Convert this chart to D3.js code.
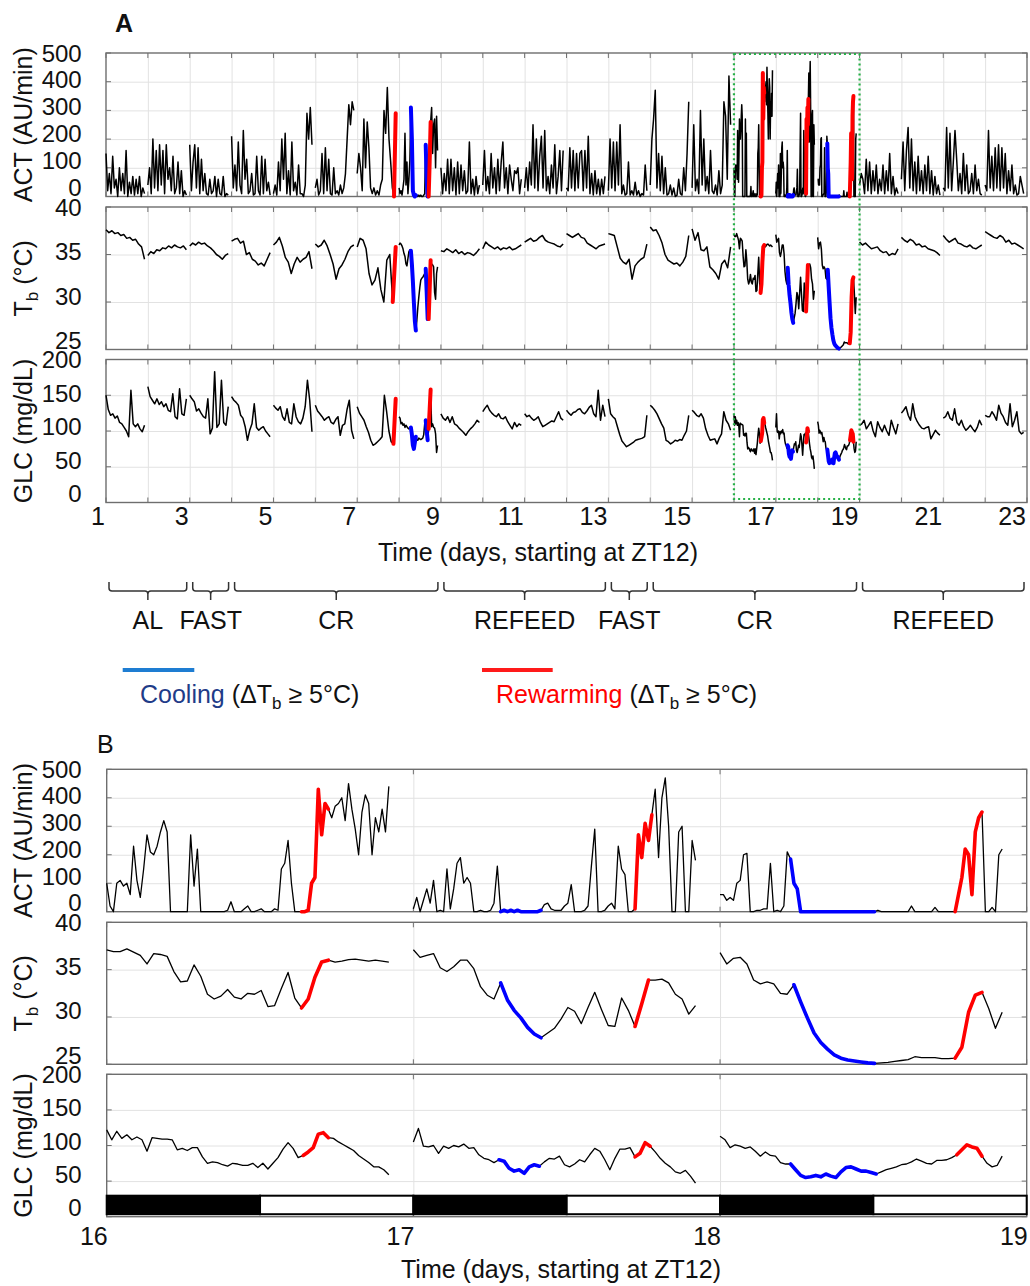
<!DOCTYPE html>
<html>
<head>
<meta charset="utf-8">
<script src="https://cdn.jsdelivr.net/npm/d3@7"></script>
<style>
  body { margin: 0; background: #fff; }
  svg { display: block; font-family: "Liberation Sans", Arial, sans-serif; }
</style>
</head>
<body>
<div id="chart"></div>
<script>
// ---------- data ----------
// every daily record starts at ZT12 and covers ~0.92 day, values evenly spaced
const SPAN = 0.92;

// panel B (days 16-18), higher resolution; also reused in panel A
const act16 = [100,20,0,100,110,90,100,60,230,110,50,150,270,210,200,230,280,320,280,0,0,0,0,0,0,270,90,220,0,0,0,0,0,0,0,0,5,35,0,0,0,10,20,0,0,5,10,0,0,0,10,5,150,170,250,100,0,0,0,0,5,100,120,430,270,380,360,330,370,380,400,320,450,360,290,200,350,410,380,200,330,280,360,280,440];
const act17 = [10,50,0,40,80,30,110,0,5,0,150,10,80,170,190,100,120,100,0,0,5,0,0,5,30,160,0,5,0,5,0,5,0,0,0,0,0,0,5,25,30,10,5,5,5,20,30,95,0,0,0,5,20,160,290,0,0,5,20,30,10,230,150,130,0,0,10,270,190,310,250,340,430,190,400,470,300,0,0,280,300,0,0,250,180];
const act18 = [60,60,40,50,40,100,110,200,205,0,0,5,5,10,10,170,0,5,0,20,210,185,100,80,0,0,0,0,0,0,0,0,0,0,0,0,0,0,0,0,0,0,0,0,0,0,0,5,0,0,0,0,0,0,0,0,0,20,0,0,0,0,0,0,15,0,0,0,0,0,0,60,120,220,200,60,280,330,350,0,0,15,0,200,220];
const tb16 = [37.1,36.9,36.9,37.2,36.85,36.5,35.6,36.7,36.6,36.4,34.8,33.7,33.8,35.5,34.3,32.4,31.9,32.2,32.9,32.1,31.9,32.5,32.4,32.8,31.1,31.2,33.0,34.7,32.0,30.95,31.9,34.2,35.8,36.0,35.8,35.9,36.05,36.1,36.0,35.9,36.0,35.9,35.8];
const tb17 = [37.1,36.3,36.5,36.7,35.2,34.8,35.3,36.0,36.0,35.1,33.2,32.3,31.9,33.6,31.8,30.7,29.9,28.9,28.2,27.8,28.3,28.8,29.8,31.0,30.6,29.3,31.0,32.6,30.8,29.1,29.0,32.0,30.7,29.0,31.4,33.9,33.9,34.0,33.6,32.4,31.9,30.3,31.2];
const tb18 = [36.8,35.6,36.2,36.3,35.6,33.9,33.5,33.7,33.5,32.5,32.4,33.4,31.6,29.9,28.3,27.3,26.6,26.0,25.65,25.45,25.35,25.25,25.15,25.1,25.15,25.2,25.3,25.4,25.5,25.8,25.7,25.7,25.7,25.6,25.6,25.65,26.8,30.5,32.3,32.6,30.9,28.8,30.5];
const glc16 = [122,108,120,110,115,108,112,108,92,111,110,109,109,108,94,96,93,97,97,84,75,77,76,73,71,75,74,72,72,75,69,75,67,75,83,95,104,96,83,86,91,97,116,118,111,110,105,101,97,93,86,81,76,70,70,66,59];
const glc17 = [105,124,99,98,100,89,99,96,100,98,102,96,97,87,82,80,76,80,78,68,64,66,61,70,73,71,77,82,81,85,73,70,74,80,77,87,96,92,80,66,82,95,95,97,84,89,104,99,91,82,75,70,63,61,65,57,47];
const glc18 = [113,108,97,101,99,96,98,92,85,91,86,85,76,74,74,66,58,55,56,58,56,60,57,55,63,69,70,67,64,64,62,60,63,66,68,70,73,74,77,81,78,75,74,79,79,80,83,87,94,101,98,96,85,75,70,72,85];

// panel A, one array per day (day 1 .. day 22)
const actA = [
  [150,20,80,10,140,30,60,0,100,20,80,10,160,0,50,10,70,5,60,10,70,0,30,10],
  [40,100,10,200,30,160,20,180,40,160,10,180,60,100,20,140,10,30,120,10,90,0,20,5],
  [180,20,120,180,30,170,10,130,20,80,10,5,60,10,20,70,0,60,10,5,70,0,10,5],
  [210,30,110,20,190,40,10,230,60,130,10,20,80,5,10,140,20,5,140,10,130,20,50,5],
  [10,40,5,120,20,200,60,220,10,90,5,190,20,50,5,110,10,10,0,40,290,200,310,180],
  [30,60,5,20,150,10,170,20,130,10,5,100,10,20,5,40,10,30,80,200,320,250,330,300],
  [80,150,100,20,270,100,260,170,30,10,30,5,20,5,40,60,300,220,380,200,120,30,0,290],
  [30,10,20,5,30,60,220,40,120,10,60,130,310,200,20,5,0,5,5,0,5,0,5,0,0,5,10,180,60,0,0,120,260,310,150,250,270,100,280,160],
  [100,10,80,20,130,10,130,20,100,5,120,10,110,20,90,10,20,190,10,60,5,70,10,40],
  [40,160,20,70,10,150,30,100,10,130,20,120,190,30,100,10,110,60,20,90,80,100,10,60],
  [30,100,20,120,40,250,30,200,20,140,210,30,230,20,70,10,110,30,180,10,70,160,20,160],
  [30,20,170,30,160,20,150,30,150,160,20,160,30,210,10,80,5,90,10,60,5,60,10,70],
  [20,200,30,190,20,190,40,250,10,40,5,10,120,5,20,5,50,5,20,0,10,5,110,20],
  [40,200,270,370,30,150,20,140,10,100,5,10,40,5,30,0,5,60,10,5,100,20,150,330],
  [30,250,20,60,10,300,40,200,20,70,10,160,20,10,40,5,90,10,40,330,280,60,420,250],
  act16, act17, act18,
  [40,80,60,10,130,20,120,10,90,20,110,10,60,20,110,10,90,20,150,10,70,5,30,10],
  [60,190,20,160,240,30,200,20,120,10,140,20,90,10,110,20,140,10,90,5,70,10,40,5],
  [30,20,240,30,220,20,120,230,130,20,80,10,150,20,110,10,20,80,10,110,20,60,10,5],
  [40,20,230,30,140,20,170,30,180,20,170,30,150,10,90,20,110,10,40,5,10,70,40,10]
];
const tbA = [
  [37.6,37.3,37.5,37.2,37.3,37.0,37.1,36.7,36.8,36.5,36.6,36.1,35.8,34.5],
  [34.9,35.3,35.1,35.5,35.4,35.7,35.6,35.9,35.7,36.0,35.8,35.7,35.9,35.5],
  [35.9,36.2,36.0,36.3,36.1,36.2,35.9,35.7,35.4,35.0,34.8,34.5,34.9,35.1],
  [36.4,36.6,36.7,36.2,36.4,35.0,35.2,34.5,34.3,33.9,34.1,33.8,34.5,35.2],
  [36.0,36.3,36.8,35.9,34.7,34.2,33.0,34.0,34.7,34.2,34.5,34.7,35.3,33.5],
  [36.1,35.8,36.0,36.5,35.9,35.0,34.0,32.4,33.5,33.9,34.5,35.3,35.8,36.0],
  [35.8,36.7,36.5,35.6,33.0,31.8,32.3,33.6,31.3,30.0,34.4,35.0,30.0,35.8],
  [36.0,36.2,36.1,35.9,35.6,35.1,34.8,34.0,33.8,34.6,35.3,35.5,35.4,34.0,32.2,30.0,28.0,27.0,28.0,29.4,30.5,31.5,32.3,32.5,32.6,32.8,33.0,33.5,31.0,28.2,28.2,31.3,34.4,34.0,33.9,33.7,31.0,30.3,33.0,33.7],
  [35.4,35.3,35.6,35.4,35.2,35.5,35.1,35.3,35.0,35.2,35.1,34.9,35.2,35.6],
  [35.6,36.3,36.0,35.8,35.6,35.8,35.5,35.7,35.6,35.8,35.5,35.6,35.8,36.0],
  [36.3,36.5,36.7,36.4,36.5,36.8,37.0,36.5,36.3,36.2,36.1,35.9,35.8,36.1],
  [37.2,37.0,36.8,37.0,37.2,36.8,36.7,36.2,36.0,35.8,35.6,35.9,36.0,36.1],
  [37.2,37.1,37.0,35.8,34.6,34.2,34.0,34.5,32.4,33.8,34.2,34.5,34.7,36.1],
  [37.9,37.5,37.6,37.0,36.2,35.0,34.4,34.2,34.0,34.1,33.8,34.2,34.8,37.0],
  [37.7,36.5,37.3,35.5,35.4,35.8,33.7,33.4,33.0,32.4,34.0,34.4,33.6,35.8],
  tb16, tb17, tb18,
  [36.3,36.0,36.2,35.9,35.6,35.7,35.8,35.4,35.2,35.3,34.9,35.1,35.0,35.6],
  [36.8,36.5,36.3,36.6,36.4,36.0,36.1,35.8,35.9,35.6,35.5,35.4,35.2,34.9],
  [37.0,36.6,36.3,36.5,36.7,36.2,36.1,35.9,35.8,36.0,35.7,35.6,35.8,36.0],
  [37.4,37.2,37.0,36.8,36.7,37.0,36.8,36.3,36.5,36.1,36.2,36.0,35.8,35.6]
];
const glcA = [
  [150,130,122,124,118,121,112,110,105,100,92,157,110,106,110,103,99,108],
  [162,148,143,138,145,137,141,134,138,129,127,152,120,117,159,124,122,145],
  [150,145,141,128,131,125,120,118,145,96,104,183,105,110,171,112,108,134],
  [148,143,140,136,122,118,106,87,101,110,138,105,101,104,106,100,96,92],
  [136,132,129,134,120,115,131,112,110,138,120,113,110,118,134,171,143,99],
  [136,128,124,120,115,118,120,112,110,116,120,94,108,110,130,143,101,89],
  [134,125,120,115,106,98,87,80,82,85,88,92,150,127,100,85,82,145],
  [120,118,110,112,108,110,105,108,106,104,103,105,105,95,80,75,84,92,88,87,90,89,88,89,90,95,110,115,100,87,103,130,158,106,110,105,104,96,70,80],
  [124,118,115,120,112,120,110,108,104,101,98,94,99,103,106,110,115,112],
  [127,132,136,129,125,122,120,124,118,117,120,113,108,103,112,106,110,108],
  [124,120,122,118,115,117,120,112,106,108,110,112,114,113,120,127,118,115],
  [129,125,122,126,127,130,131,126,124,128,133,136,124,120,157,115,136,120],
  [145,124,120,117,106,95,86,82,78,80,82,84,87,88,89,90,92,122],
  [136,133,129,124,117,110,104,87,85,82,84,87,86,88,87,94,100,122],
  [129,126,122,120,124,118,103,94,87,88,89,82,90,96,127,115,110,101],
  glc16, glc17, glc18,
  [108,110,115,103,108,113,100,92,113,105,99,108,100,94,115,105,96,110],
  [125,129,134,122,115,138,120,113,108,104,103,105,106,89,95,101,97,94],
  [118,120,127,118,115,131,112,108,115,106,101,104,108,103,99,105,115,108],
  [122,120,120,127,122,115,136,125,120,112,108,138,106,115,127,100,96,98]
];

// cooling / rewarming bouts (delta Tb >= 5 C), in days
const evStart = [7.845, 8.275, 8.625, 8.69, 16.63, 17.278, 17.72, 18.228, 18.76];
const evEnd   = [7.925, 8.41, 8.685, 8.765, 16.725, 17.42, 17.785, 18.51, 18.856];
const evType  = ["rewarm", "cool", "cool", "rewarm", "rewarm", "cool", "rewarm", "cool", "rewarm"];

// feeding protocol
const phaseName  = ["AL", "FAST", "CR", "REFEED", "FAST", "CR", "REFEED"];
const phaseStart = [1, 3, 4, 9, 13, 14, 19];
const phaseEnd   = [3, 4, 9, 13, 14, 19, 23];

// light/dark cycle in panel B
const ldStart = [16, 16.5, 17, 17.5, 18, 18.5];
const ldEnd   = [16.5, 17, 17.5, 18, 18.5, 19];
const ldDark  = [true, false, true, false, true, false];

const actTicks = [0, 100, 200, 300, 400, 500];
const tbTicks  = [25, 30, 35, 40];
const glcTicks = [0, 50, 100, 150, 200];
const daysA = d3.range(1, 23);
const xTickLabelsA = [1, 3, 5, 7, 9, 11, 13, 15, 17, 19, 21, 23];
const xTickLabelsB = [16, 17, 18, 19];

// ---------- chart ----------
const W = 1030, H = 1286;
const COLORS = { cool: "#0000ff", rewarm: "#ff0000" };

const svg = d3.select("#chart").append("svg")
  .attr("width", W).attr("height", H)
  .attr("viewBox", `0 0 ${W} ${H}`);

const xA = d3.scaleLinear().domain([1, 23]).range([106, 1027]);
const xB = d3.scaleLinear().domain([16, 19]).range([106.7, 1026.7]);

function pts(day, vals) {
  const n = vals.length;
  return vals.map((v, i) => ({ t: day + SPAN * i / (n - 1), v }));
}

function panel(x, top, bottom, domain, ticks, xGrid, title) {
  const y = d3.scaleLinear().domain(domain).range([bottom, top]);
  const [x0, x1] = x.range();
  const g = svg.append("g");

  // gridlines
  g.append("g")
    .attr("transform", `translate(0,${bottom})`)
    .call(d3.axisBottom(x).tickValues(xGrid.filter(d => d > x.domain()[0] && d < x.domain()[1]))
      .tickSize(-(bottom - top)).tickFormat(""))
    .call(a => a.select(".domain").remove())
    .selectAll("line").attr("stroke", "#e2e2e2").attr("stroke-width", 1);
  g.append("g")
    .attr("transform", `translate(${x0},0)`)
    .call(d3.axisLeft(y).tickValues(ticks.filter(v => v > domain[0] && v < domain[1]))
      .tickSize(-(x1 - x0)).tickFormat(""))
    .call(a => a.select(".domain").remove())
    .selectAll("line").attr("stroke", "#e2e2e2").attr("stroke-width", 1);

  // inward tick marks on all four sides
  const tk = g.append("g").attr("stroke", "#707070").attr("stroke-width", 1);
  xGrid.forEach(d => {
    tk.append("line").attr("x1", x(d)).attr("x2", x(d)).attr("y1", top).attr("y2", top + 5);
    tk.append("line").attr("x1", x(d)).attr("x2", x(d)).attr("y1", bottom).attr("y2", bottom - 5);
  });
  ticks.forEach(v => {
    tk.append("line").attr("x1", x0).attr("x2", x0 + 5).attr("y1", y(v)).attr("y2", y(v));
    tk.append("line").attr("x1", x1 - 5).attr("x2", x1).attr("y1", y(v)).attr("y2", y(v));
  });

  // frame
  g.append("rect")
    .attr("x", x0).attr("y", top).attr("width", x1 - x0).attr("height", bottom - top)
    .attr("fill", "none").attr("stroke", "#6e6e6e").attr("stroke-width", 1.4);

  // y tick labels (slightly squeezed upward as in the original)
  g.selectAll(".ylab").data(ticks).join("text")
    .attr("x", 81.7)
    .attr("y", v => y(v) - 9 * (y(v) - top) / (bottom - top))
    .attr("text-anchor", "end")
    .attr("dominant-baseline", "central")
    .attr("font-size", 24)
    .attr("fill", "#111")
    .text(v => v);

  // y title
  const t = g.append("text")
    .attr("transform", `translate(32,${(top + bottom) / 2}) rotate(-90)`)
    .attr("text-anchor", "middle")
    .attr("font-size", 25)
    .attr("fill", "#111");
  if (title === "tb") {
    t.append("tspan").text("T");
    t.append("tspan").attr("dy", 6).attr("font-size", 17).text("b");
    t.append("tspan").attr("dy", -6).text(" (°C)");
  } else {
    t.text(title);
  }
  return y;
}

function drawTraces(x, y, arrays, days, width, evWidth) {
  const line = d3.line().x(d => x(d.t)).y(d => y(d.v));
  const g = svg.append("g").attr("fill", "none");
  days.forEach(day => {
    g.append("path")
      .attr("d", line(pts(day, arrays[day - 1])))
      .attr("stroke", "#000")
      .attr("stroke-width", width)
      .attr("stroke-linejoin", "round");
  });
  evStart.forEach((s, k) => {
    const day = Math.floor(s);
    if (!days.includes(day)) return;
    const seg = pts(day, arrays[day - 1]).filter(d => d.t >= s - 1e-6 && d.t <= evEnd[k] + 1e-6);
    g.append("path")
      .attr("d", line(seg))
      .attr("stroke", COLORS[evType[k]])
      .attr("stroke-width", evWidth)
      .attr("stroke-linejoin", "round")
      .attr("stroke-linecap", "round");
  });
}

// ---- panel A ----
svg.append("text").attr("x", 115).attr("y", 31.5)
  .attr("font-size", 25).attr("font-weight", "bold").attr("fill", "#111").text("A");

const gridA = d3.range(1, 24);
const yActA = panel(xA, 53, 196.5, [0, 500], actTicks, gridA, "ACT (AU/min)");
drawTraces(xA, yActA, actA, daysA, 1.5, 4);
const yTbA = panel(xA, 207, 349.5, [25, 40], tbTicks, gridA, "tb");
drawTraces(xA, yTbA, tbA, daysA, 1.5, 4);
const yGlcA = panel(xA, 359.5, 502.5, [0, 200], glcTicks, gridA, "GLC (mg/dL)");
drawTraces(xA, yGlcA, glcA, daysA, 1.5, 4);

svg.append("g").selectAll("text").data(xTickLabelsA).join("text")
  .attr("x", d => xA(d) - 1).attr("y", 525)
  .attr("text-anchor", "end").attr("font-size", 25).attr("fill", "#111")
  .text(d => d);

// zoom window marker
svg.append("rect")
  .attr("x", xA(16)).attr("y", 54)
  .attr("width", xA(19) - xA(16)).attr("height", 499 - 54)
  .attr("fill", "none").attr("stroke", "#25b046").attr("stroke-width", 2.2)
  .attr("stroke-dasharray", "2,3");

svg.append("text").attr("x", 538).attr("y", 561)
  .attr("text-anchor", "middle").attr("font-size", 25).attr("fill", "#111")
  .text("Time (days, starting at ZT12)");

// feeding protocol braces
const braces = svg.append("g").attr("fill", "none").attr("stroke", "#333").attr("stroke-width", 1.5);
phaseName.forEach((name, i) => {
  const a = xA(phaseStart[i]) + 3, b = xA(phaseEnd[i]) - 3, c = (a + b) / 2;
  const yl = 591;
  braces.append("path").attr("d",
    `M${a},582 L${a},${yl - 3} Q${a},${yl} ${a + 3},${yl} L${c - 3},${yl} Q${c},${yl} ${c},${yl + 3} L${c},600 ` +
    `M${c},${yl + 3} Q${c},${yl} ${c + 3},${yl} L${b - 3},${yl} Q${b},${yl} ${b},${yl - 3} L${b},582`);
  svg.append("text").attr("x", c).attr("y", 629)
    .attr("text-anchor", "middle").attr("font-size", 25).attr("fill", "#111").text(name);
});

// legend
svg.append("line").attr("x1", 122.7).attr("x2", 194.3).attr("y1", 670).attr("y2", 670)
  .attr("stroke", "#1e7dd2").attr("stroke-width", 4);
svg.append("line").attr("x1", 482).attr("x2", 552.7).attr("y1", 670).attr("y2", 670)
  .attr("stroke", "#ff1a1a").attr("stroke-width", 4);

function legendText(x, word, color) {
  const t = svg.append("text").attr("x", x).attr("y", 703).attr("font-size", 25).attr("fill", "#111");
  t.append("tspan").attr("fill", color).text(word);
  t.append("tspan").text(" (ΔT");
  t.append("tspan").attr("dy", 6).attr("font-size", 17).text("b");
  t.append("tspan").attr("dy", -6).text(" ≥ 5°C)");
}
legendText(140, "Cooling", "#1f3c88");
legendText(496, "Rewarming", "#ff0000");

// ---- panel B ----
svg.append("text").attr("x", 97).attr("y", 753)
  .attr("font-size", 25).attr("fill", "#111").text("B");

const daysB = [16, 17, 18];
const gridB = [16, 17, 18, 19];
const yActB = panel(xB, 769.3, 911.7, [0, 500], actTicks, gridB, "ACT (AU/min)");
drawTraces(xB, yActB, actA, daysB, 1.3, 3.6);
const yTbB = panel(xB, 922.3, 1064.3, [25, 40], tbTicks, gridB, "tb");
drawTraces(xB, yTbB, tbA, daysB, 1.3, 3.6);
const yGlcB = panel(xB, 1074.3, 1216.7, [0, 200], glcTicks, gridB, "GLC (mg/dL)");

// light / dark bar
svg.append("g").selectAll("rect").data(ldStart).join("rect")
  .attr("x", (d, i) => xB(d))
  .attr("width", (d, i) => xB(ldEnd[i]) - xB(d))
  .attr("y", yGlcB(29.5))
  .attr("height", yGlcB(3.5) - yGlcB(29.5))
  .attr("fill", (d, i) => ldDark[i] ? "#000" : "#fff")
  .attr("stroke", "#000").attr("stroke-width", 2);

drawTraces(xB, yGlcB, glcA, daysB, 1.3, 3.6);

svg.append("g").selectAll("text").data(xTickLabelsB).join("text")
  .attr("x", d => xB(d) + 1).attr("y", 1245)
  .attr("text-anchor", "end").attr("font-size", 25).attr("fill", "#111")
  .text(d => d);

svg.append("text").attr("x", 561).attr("y", 1278)
  .attr("text-anchor", "middle").attr("font-size", 25).attr("fill", "#111")
  .text("Time (days, starting at ZT12)");
</script>
</body>
</html>
